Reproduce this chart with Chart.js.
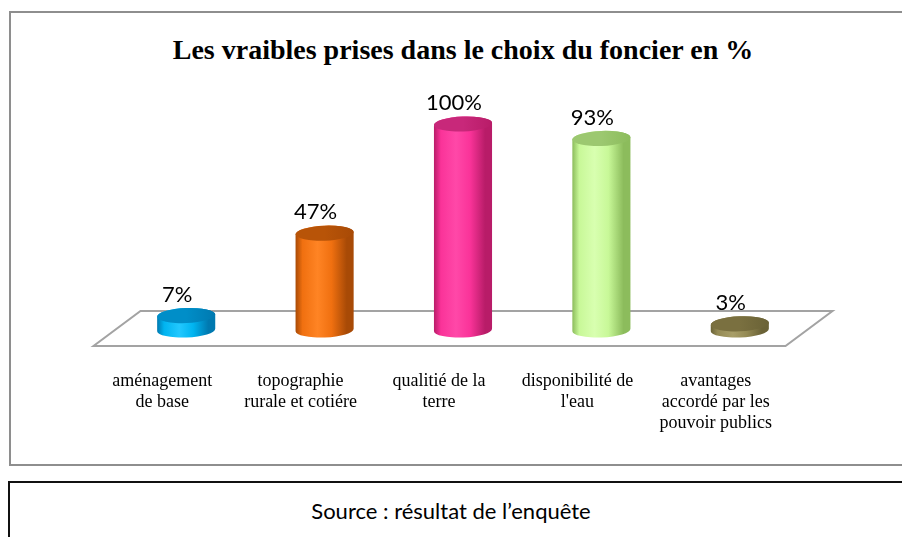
<!DOCTYPE html>
<html>
<head>
<meta charset="utf-8">
<script src="https://cdn.jsdelivr.net/npm/chart.js@4.4.0/dist/chart.umd.min.js"></script>
<style>
  html, body { margin:0; padding:0; background:#fff; width:902px; height:537px; overflow:hidden; }
  #frame { position:absolute; left:9px; top:11px; width:1000px; height:455px; box-sizing:border-box; border:2px solid #8e8e8e; }
  #source { position:absolute; left:8px; top:481px; width:1000px; height:100px; box-sizing:border-box; border:2px solid #111; }
  #title { position:absolute; left:0; width:926px; top:35px; line-height:30px; text-align:center;
           font-family:"Liberation Serif", "Times New Roman", serif; font-weight:bold; font-size:28px; color:#000; }
  #srctext { position:absolute; left:0; width:902px; top:497px; line-height:28px; text-align:center;
           font-family:Lato, "Open Sans", sans-serif; font-size:22px; color:#000; }
  #c { position:absolute; left:0; top:0; }
</style>
</head>
<body>
<div id="frame"></div>
<div id="source"></div>
<div id="title">Les vraibles prises dans le choix du foncier en %</div>
<div id="srctext">Source : résultat de l’enquête</div>
<canvas id="c" width="902" height="537"></canvas>
<script>
const categories = [
  ["aménagement", "de base"],
  ["topographie", "rurale et cotiére"],
  ["qualitié de la", "terre"],
  ["disponibilité de", "l'eau"],
  ["avantages", "accordé par les", "pouvoir publics"]
];
const values = [7, 47, 100, 93, 3];
const valueLabels = ["7%", "47%", "100%", "93%", "3%"];

const palette = [
  { dark:'#0079b0', light:'#22c8ff', main:'#00b4f0', top:'#008ec8' },
  { dark:'#a84a06', light:'#ff8424', main:'#f07010', top:'#b85408' },
  { dark:'#b81c68', light:'#ff48a8', main:'#fa3399', top:'#c8287a' },
  { dark:'#8cbc5c', light:'#d8ffb0', main:'#c8f898', top:'#9cc870' },
  { dark:'#6a6236', light:'#a89e68', main:'#948a54', top:'#7a7040' }
];

const cylPlugin = {
  id: 'cyl3d',
  beforeDatasetsDraw(chart) {
    const ctx = chart.ctx, a = chart.chartArea;
    const dx = 23.5;
    ctx.save();
    ctx.beginPath();
    ctx.moveTo(a.left + dx, a.bottom - 19);
    ctx.lineTo(a.right + dx, a.bottom - 19);
    ctx.lineTo(a.right - dx, a.bottom + 16);
    ctx.lineTo(a.left - dx, a.bottom + 16);
    ctx.closePath();
    ctx.fillStyle = '#ffffff';
    ctx.fill();
    ctx.lineWidth = 2;
    ctx.strokeStyle = '#a3a3a3';
    ctx.stroke();
    const xs = chart.scales.x;
    ctx.fillStyle = '#000';
    ctx.font = '18px "Liberation Serif", "Times New Roman", serif';
    ctx.textAlign = 'center';
    ctx.textBaseline = 'middle';
    categories.forEach((lines, i) => {
      const x = xs.getPixelForTick(i) - 24;
      lines.forEach((ln, j) => ctx.fillText(ln, x, a.bottom + 51 + j * 21));
    });
    ctx.restore();
  },
  afterDatasetsDraw(chart) {
    const ctx = chart.ctx;
    const meta = chart.getDatasetMeta(0);
    const rot = -0.04;
    ctx.save();
    meta.data.forEach((bar, i) => {
      const c = palette[i];
      const cx = bar.x, rx = bar.width / 2, ry = 7.5;
      const topY = bar.y, baseY = bar.base;
      const g = ctx.createLinearGradient(cx - rx, 0, cx + rx, 0);
      g.addColorStop(0, c.dark);
      g.addColorStop(0.12, c.main);
      g.addColorStop(0.38, c.light);
      g.addColorStop(0.62, c.main);
      g.addColorStop(0.88, c.dark);
      g.addColorStop(1, c.dark);
      ctx.beginPath();
      ctx.ellipse(cx, baseY, rx, ry, rot, Math.PI, 0, true);
      ctx.ellipse(cx, topY, rx, ry, rot, 0, Math.PI, true);
      ctx.closePath();
      ctx.fillStyle = g;
      ctx.fill();
      const tg = ctx.createLinearGradient(cx - rx, 0, cx + rx, 0);
      tg.addColorStop(0, c.top);
      tg.addColorStop(0.5, c.top);
      tg.addColorStop(1, c.dark);
      ctx.beginPath();
      ctx.ellipse(cx, topY, rx, ry, rot, 0, Math.PI * 2);
      ctx.fillStyle = tg;
      ctx.fill();
      ctx.fillStyle = '#000';
      ctx.font = '22px Lato, "Open Sans", sans-serif';
      ctx.textAlign = 'center';
      ctx.textBaseline = 'middle';
      ctx.fillText(valueLabels[i], cx - 9, topY - 21);
    });
    ctx.restore();
  }
};

new Chart(document.getElementById('c'), {
  type: 'bar',
  data: {
    labels: categories,
    datasets: [{
      data: values,
      backgroundColor: 'rgba(0,0,0,0)',
      borderWidth: 0,
      barPercentage: 0.42,
      categoryPercentage: 1
    }]
  },
  options: {
    responsive: false,
    devicePixelRatio: 1,
    animation: false,
    layout: { padding: { left: 117, right: 93, top: 124, bottom: 207 } },
    plugins: { legend: { display: false }, tooltip: { enabled: false }, title: { display: false } },
    scales: {
      x: { display: false },
      y: { display: false, min: 0, max: 100 }
    }
  },
  plugins: [cylPlugin]
});
</script>
</body>
</html>
